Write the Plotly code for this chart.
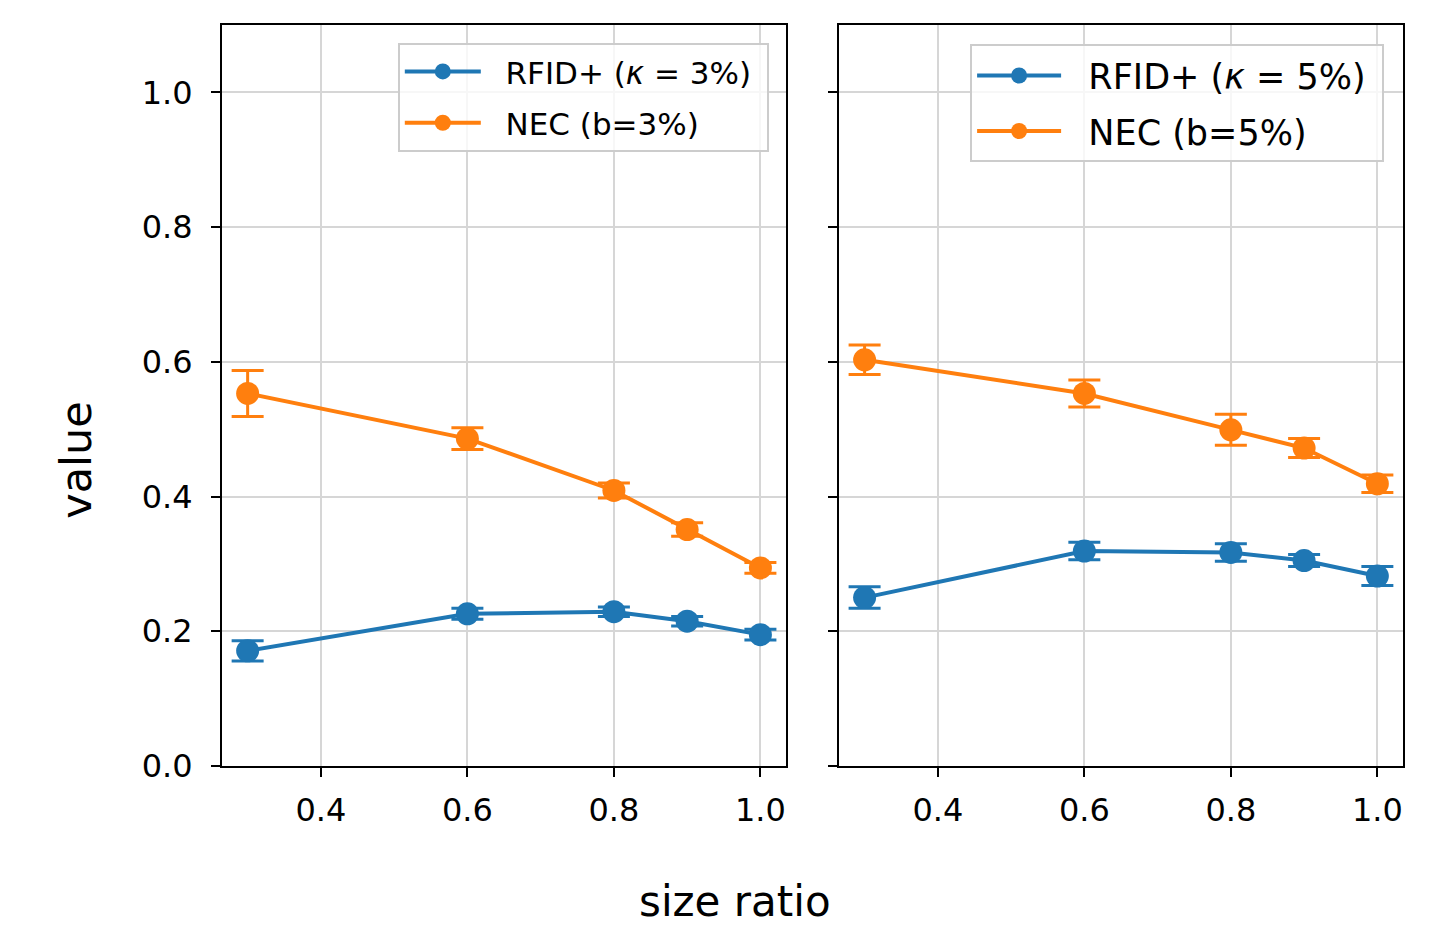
import plotly.graph_objects as go
from plotly.subplots import make_subplots

size_ratio = [0.3, 0.6, 0.8, 0.9, 1.0]

# Left panel (3%)
rfid_3 = [0.171, 0.226, 0.229, 0.215, 0.195]
rfid_3_err = [0.015, 0.008, 0.007, 0.007, 0.008]
nec_3 = [0.553, 0.486, 0.409, 0.351, 0.294]
nec_3_err = [0.034, 0.016, 0.011, 0.010, 0.008]

# Right panel (5%)
rfid_5 = [0.250, 0.319, 0.317, 0.305, 0.282]
rfid_5_err = [0.016, 0.013, 0.013, 0.009, 0.014]
nec_5 = [0.603, 0.553, 0.499, 0.472, 0.419]
nec_5_err = [0.022, 0.020, 0.023, 0.014, 0.013]

NB = "\u00a0"
labels_left = [NB * 2 + "RFID+ (<i>κ</i> = 3%)" + NB, NB * 2 + "NEC (b=3%)" + NB]
labels_right = [NB * 2 + "RFID+ (<i>κ</i> = 5%)" + NB, NB * 2 + "NEC (b=5%)" + NB]

x_ticks = [0.4, 0.6, 0.8, 1.0]
x_ticktext = ["0.4", "0.6", "0.8", "1.0"]
y_ticks = [0, 0.2, 0.4, 0.6, 0.8, 1.0]
y_ticktext = ["0.0", "0.2", "0.4", "0.6", "0.8", "1.0"]

BLUE = "#1f77b4"
ORANGE = "#ff7f0e"
FONT = "DejaVu Sans"

fig = make_subplots(rows=1, cols=2, shared_yaxes=True, horizontal_spacing=0.0448)


def add(y, err, name, color, col, legend, group):
    fig.add_trace(
        go.Scatter(
            x=size_ratio, y=y, name=name, mode="lines+markers",
            line=dict(color=color, width=4),
            marker=dict(color=color, size=23),
            error_y=dict(type="data", array=err, visible=True, color=color,
                         thickness=3, width=16),
            legend=legend, legendgroup=group,
        ),
        row=1, col=col,
    )


add(rfid_3, rfid_3_err, labels_left[0], BLUE, 1, "legend", "l1")
add(nec_3, nec_3_err, labels_left[1], ORANGE, 1, "legend", "l2")
add(rfid_5, rfid_5_err, labels_right[0], BLUE, 2, "legend2", "r1")
add(nec_5, nec_5_err, labels_right[1], ORANGE, 2, "legend2", "r2")

axis_common = dict(
    showline=True, linecolor="black", linewidth=2, mirror=True,
    ticks="outside", ticklen=9, tickwidth=2, tickcolor="black",
    showgrid=True, gridcolor="#d6d6d6", gridwidth=1.8,
    zeroline=False, tickfont=dict(family=FONT, size=32, color="black"),
)

for c in (1, 2):
    fig.update_xaxes(range=[0.265, 1.035], tickvals=x_ticks, ticktext=x_ticktext,
                     ticklabelstandoff=6, row=1, col=c, **axis_common)
    fig.update_yaxes(range=[0, 1.1], tickvals=y_ticks, ticktext=y_ticktext,
                     ticklabelstandoff=12, row=1, col=c, **axis_common)
fig.update_yaxes(showticklabels=False, row=1, col=2)

fig.update_layout(
    width=1451, height=927,
    margin=dict(l=214, r=56, t=17, b=169),
    plot_bgcolor="white", paper_bgcolor="white",
    font=dict(family=FONT, color="black"),
    legend=dict(x=0.463, y=0.976, xanchor="right", yanchor="top",
                bgcolor="rgba(255,255,255,0.8)", bordercolor="#cccccc", borderwidth=2,
                font=dict(family=FONT, size=31, color="black"),
                itemwidth=76, tracegroupgap=8),
    legend2=dict(x=0.984, y=0.974, xanchor="right", yanchor="top",
                 bgcolor="rgba(255,255,255,0.8)", bordercolor="#cccccc", borderwidth=2,
                 font=dict(family=FONT, size=35, color="black"),
                 itemwidth=84, tracegroupgap=7),
    annotations=[
        dict(text="size ratio", x=0.434, y=-0.183, xref="paper", yref="paper",
             xanchor="center", yanchor="middle", showarrow=False,
             font=dict(family=FONT, size=42, color="black")),
        dict(text="value", x=-0.1236, y=0.412, xref="paper", yref="paper",
             xanchor="center", yanchor="middle", showarrow=False, textangle=-90,
             font=dict(family=FONT, size=43, color="black")),
    ],
)

fig.write_html("out.html")
